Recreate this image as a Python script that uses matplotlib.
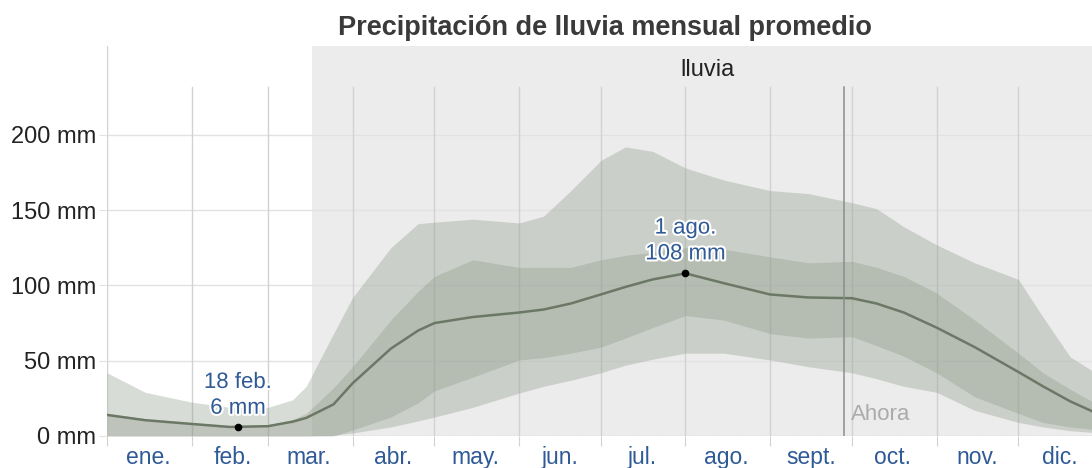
import matplotlib
matplotlib.use("Agg")
import matplotlib.pyplot as plt
import matplotlib.patheffects as pe

plt.rcParams['font.family'] = ['Liberation Sans', 'DejaVu Sans']

# day of year for each reading
days = [0, 14, 31, 45, 59, 68, 73, 83, 90, 104, 114, 120, 134, 151, 160, 170,
        181, 190, 200, 212, 226, 243, 257, 273, 282, 292, 304, 318, 334, 343, 353, 364]

# median monthly rainfall (mm, 31-day sliding)
median_mm = [14, 10.5, 8, 6, 6.5, 9.5, 12, 21, 35, 58, 70, 75, 79, 82, 84, 88,
             94, 99, 104, 108, 101.5, 94, 92, 91.5, 88, 82, 72, 59, 42.5, 33, 23, 14]
# 25th - 75th percentile band
p25_mm = [0, 0, 0, 0, 0, 0, 0, 0, 4, 12.6, 22, 30, 39, 50.5, 52, 55,
          59, 65, 72, 80, 77, 68, 65, 66, 60, 53, 42, 26, 15, 9, 6, 4]
p75_mm = [15, 11.5, 9, 7, 7.5, 11, 15, 32, 46, 77, 96, 106, 117, 112, 112, 112,
          117, 120, 122, 125, 124, 119, 115, 116, 112, 106, 95, 77, 55, 42, 31, 20]
# 10th - 90th percentile band
p10_mm = [0, 0, 0, 0, 0, 0, 0, 0.5, 2, 6, 10, 12.6, 19, 28.5, 33, 37,
          42, 47, 51, 55, 55, 50.5, 46, 42, 38, 33, 29, 17, 9, 6, 3.5, 2]
p90_mm = [42, 29, 22.5, 19, 19, 24, 33, 68, 92, 125, 141, 142, 144, 141.5, 146, 163,
          183, 192, 189, 178, 170, 163, 161, 155, 151, 139, 127, 115, 104, 79, 52.5, 40]

month_start = [0, 31, 59, 90, 120, 151, 181, 212, 243, 273, 304, 334]
month_names = ['ene.', 'feb.', 'mar.', 'abr.', 'may.', 'jun.',
               'jul.', 'ago.', 'sept.', 'oct.', 'nov.', 'dic.']
y_ticks = [0, 50, 100, 150, 200]

rain_start = 75      # start of the rainy season (day)
now_day = 270        # "Ahora"
min_day, min_val, min_text = 48, 6, '18 feb.\n6 mm'
max_day, max_val, max_text = 212, 108, '1 ago.\n108 mm'

fig = plt.figure(figsize=(10.92, 4.68), dpi=100)
ax = fig.add_axes([107/1092, 32/468, 996/1092, 390/468])
ax.set_xlim(0, 365)
ax.set_ylim(0, 259)
for s in ax.spines.values():
    s.set_visible(False)

# rainy season background
ax.axvspan(rain_start, 365, color='#ececec', zorder=0, lw=0)
ax.text((rain_start + 365) / 2, 243, 'lluvia', ha='center', va='center',
        fontsize=17, color='#222222', zorder=5)

# grid
for yv in y_ticks[1:]:
    ax.axhline(yv, color='#e2e2e2', lw=1, zorder=1)
ax.axhline(0, color='#b0b0b0', lw=1, ls=(0, (1, 1.5)), zorder=4)
for i, d in enumerate(month_start):
    top = 259 if i == 0 else 232
    ax.plot([d, d], [0, top], color='#d2d2d2', lw=1, zorder=1)

# bands and median
band = '#8a9684'
ax.fill_between(days, p10_mm, p90_mm, color=band, alpha=0.33, lw=0, zorder=2)
ax.fill_between(days, p25_mm, p75_mm, color=band, alpha=0.33, lw=0, zorder=2)
ax.plot(days, median_mm, color='#6b7866', lw=1.8, zorder=3)

# now line
ax.plot([now_day, now_day], [0, 232], color='#8c8c8c', lw=1.1, zorder=3)
ax.text(now_day + 2.5, 14, 'Ahora', ha='left', va='center', fontsize=16,
        color='#ababab', zorder=5)

# min / max markers
halo = [pe.withStroke(linewidth=3, foreground='white')]
for d, v, t, off in [(min_day, min_val, min_text, 21), (max_day, max_val, max_text, 21.5)]:
    ax.plot(d, v, 'o', color='black', ms=4.5, zorder=6)
    ax.text(d, v + off, t, ha='center', va='center', fontsize=16,
            color='#2f5a96', linespacing=1.3, path_effects=halo, zorder=6)

# axes ticks
ax.set_yticks(y_ticks)
ax.set_yticklabels(['%d mm' % v for v in y_ticks])
ax.tick_params(axis='y', length=6, color='#e2e2e2', pad=2, labelsize=17, labelcolor='#222222')
ax.set_xticks(month_start)
ax.set_xticklabels([])
ax.set_xticks([d + 15 for d in month_start], minor=True)
ax.set_xticklabels(month_names, minor=True)
ax.tick_params(axis='x', which='major', length=7, color='#d2d2d2')
ax.tick_params(axis='x', which='minor', length=0, pad=7, labelsize=16.5, labelcolor='#2f5a96')

ax.set_title('Precipitación de lluvia mensual promedio', fontsize=19.5,
             fontweight='bold', color='#3a3a3a', pad=8)

fig.savefig('out.png', dpi=100)
